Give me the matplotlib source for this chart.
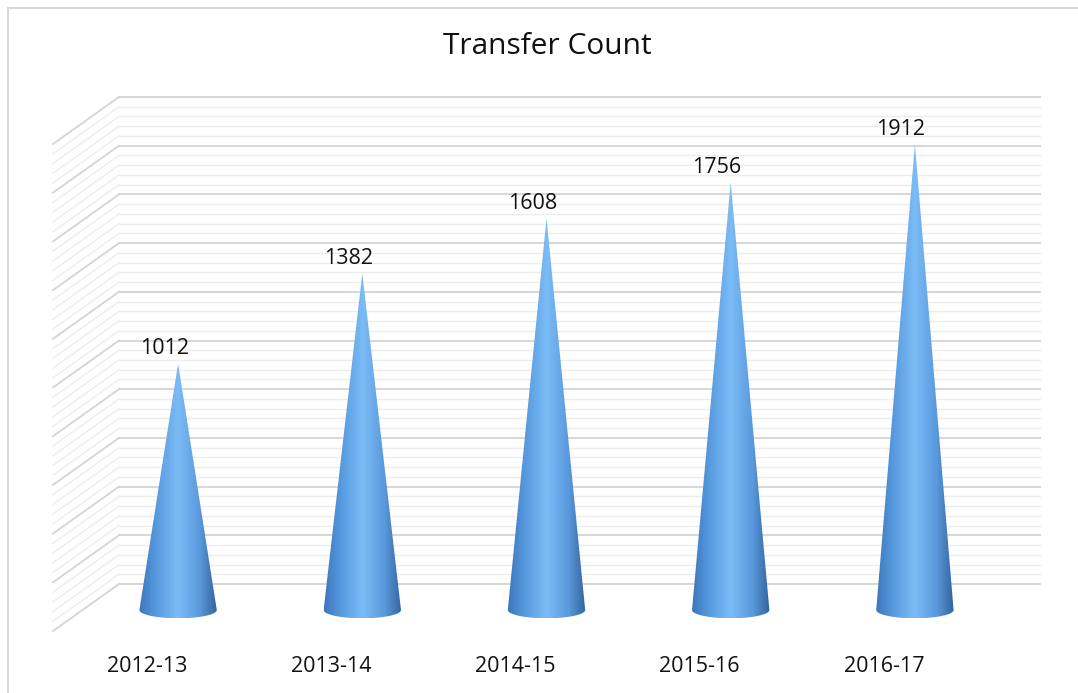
import numpy as np
import matplotlib
matplotlib.use('Agg')
import matplotlib.pyplot as plt
from matplotlib.path import Path
from matplotlib.patches import PathPatch, Rectangle
from matplotlib.colors import LinearSegmentedColormap
from matplotlib.transforms import ScaledTranslation

plt.rcParams['font.family'] = ['Open Sans', 'DejaVu Sans']

years = ['2012-13', '2013-14', '2014-15', '2015-16', '2016-17']
counts = [1012, 1382, 1608, 1756, 1912]
y_max = 2000
y_min = -100
major_step = 200
minor_step = 40

W, H = 1078, 693
px_per_unit = 487 / y_max
fig = plt.figure(figsize=(W / 100, H / 100), dpi=100)
fig.patch.set_facecolor('white')

# plot area = plane through the cones (value 0 at y=610 px)
bottom_px = 610 - y_min * px_per_unit
ax = fig.add_axes([86 / W, (H - bottom_px) / H, 921 / W, (bottom_px - 123) / H])
ax.set_xlim(-0.5, len(years) - 0.5)
ax.set_ylim(y_min, y_max)
ax.axis('off')

# depth offsets (pixels) for back wall and front edge of the side wall
back = ScaledTranslation(33 / 100, 26 / 100, fig.dpi_scale_trans)
front = ScaledTranslation(-33 / 100, -21 / 100, fig.dpi_scale_trans)
fig.canvas.draw()

for v in np.arange(0, y_max + 1, minor_step):
    is_major = v % major_step == 0
    col = '#d4d4d4' if is_major else '#ededed'
    lw = 1.3 if is_major else 1.0
    # back wall
    ax.plot([-0.5, len(years) - 0.5], [v, v], color=col, lw=lw,
            transform=ax.transData + back, clip_on=False, zorder=1)
    # side wall
    p_back = (ax.transData + back).transform((-0.5, v))
    p_front = (ax.transData + front).transform((-0.5, v))
    fig.add_artist(plt.Line2D([p_back[0], p_front[0]], [p_back[1], p_front[1]],
                              color=col, lw=lw, transform=None, zorder=1))

cmap = LinearSegmentedColormap.from_list('cone', [
    (0.0, '#3d76b9'), (0.2, '#5597dc'), (0.5, '#7bbcf6'),
    (0.78, '#5a99dc'), (1.0, '#32649c')])
grad = np.linspace(0, 1, 256).reshape(1, -1)

half_w = 0.21          # base half width, category units
ell_h = 34             # base ellipse half height, value units
theta = np.linspace(0, np.pi, 60)
lab_shift = ScaledTranslation(-14 / 100, 0, fig.dpi_scale_trans)

for i, (lab, val) in enumerate(zip(years, counts)):
    arc_x = i + half_w * np.cos(theta)
    arc_y = -ell_h * np.sin(theta)
    verts = [(i, val), (i + half_w, 0)] + list(zip(arc_x, arc_y)) + [(i, val)]
    codes = [Path.MOVETO] + [Path.LINETO] * (len(verts) - 2) + [Path.CLOSEPOLY]
    patch = PathPatch(Path(verts, codes), facecolor='none', edgecolor='none')
    ax.add_patch(patch)
    im = ax.imshow(grad, cmap=cmap, aspect='auto', zorder=3,
                   extent=[i - half_w, i + half_w, -ell_h, val])
    im.set_clip_path(patch)
    ax.text(i, val + 18, str(val), ha='center', va='bottom', fontsize=15.5,
            color='#111111', zorder=4, transform=ax.transData + lab_shift)

ax.set_xlim(-0.5, len(years) - 0.5)
ax.set_ylim(y_min, y_max)

for i, lab in enumerate(years):
    ax.text(i, 0, lab, ha='center', va='center', fontsize=15.5, color='#111111',
            transform=ax.transData + ScaledTranslation(-31 / 100, -57 / 100, fig.dpi_scale_trans))

fig.text(547 / W, 1 - 47 / H, 'Transfer Count', ha='center', va='center',
         fontsize=21.5, color='#111111')

fig.add_artist(Rectangle((8 / W, -0.01), 1.2, 1 - 8 / H + 0.01, transform=fig.transFigure,
                         fill=False, edgecolor='#d9d9d9', lw=1.5))

fig.savefig('out.png', dpi=100, facecolor='white')
